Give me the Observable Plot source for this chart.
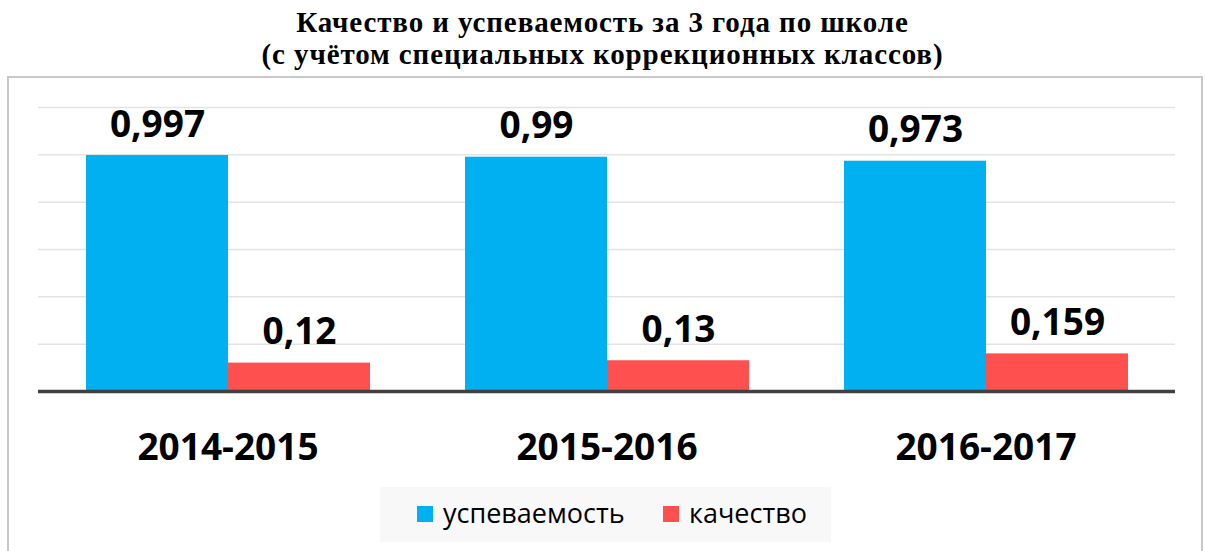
<!DOCTYPE html>
<html>
<head>
<meta charset="utf-8">
<script src="https://cdn.jsdelivr.net/npm/d3@7"></script>
<script src="https://cdn.jsdelivr.net/npm/@observablehq/plot@0.6"></script>
<style>
  html, body { margin: 0; padding: 0; background: #fff; }
  #wrap { position: relative; width: 1205px; height: 551px; overflow: hidden; }
  .title { position: absolute; left: 0; width: 1205px; text-align: center; height: 32px;
    font-family: "Liberation Serif", "Times New Roman", serif; font-weight: bold; font-size: 29px; line-height: 32px;
    letter-spacing: 0.9px; color: #000; white-space: nowrap; }
  #frame { position: absolute; left: 7px; top: 76px; width: 1196px; height: 520px; border: 2px solid #c9c9c9; box-sizing: border-box; }
  #chart { position: absolute; left: 0; top: 75px; }
  #legend { position: absolute; left: 380px; top: 487px; width: 451px; height: 55px; background: #f8f8f8;
    font-family: "Open Sans", sans-serif; font-size: 27px; color: #000; }
  .item { position: absolute; top: 0; height: 55px; line-height: 55px; white-space: nowrap; }
  .sw { position: absolute; top: 19px; width: 16px; height: 16px; }
  .lab { position: absolute; left: 26px; top: -2px; }
</style>
</head>
<body>
<div id="wrap">
  <div class="title" style="top:6px">Качество и успеваемость за 3 года по школе</div>
  <div class="title" style="top:38px">(с учётом специальных коррекционных классов)</div>
  <div id="frame"></div>
  <div id="chart"></div>
  <div id="legend"></div>
</div>
<script>
const years = ["2014-2015", "2015-2016", "2016-2017"];
const seriesNames = ["успеваемость", "качество"];
const uspevaemost = [0.997, 0.99, 0.973];
const kachestvo = [0.12, 0.13, 0.159];
const colors = ["#00B0F0", "#FF5050"];
const yTicks = [0, 0.2, 0.4, 0.6, 0.8, 1.0, 1.2];

const data = [];
years.forEach((yr, i) => {
  data.push({year: yr, series: seriesNames[0], value: uspevaemost[i]});
  data.push({year: yr, series: seriesNames[1], value: kachestvo[i]});
});
const fmt = v => String(v).replace(".", ",");

const chart = Plot.plot({
  width: 1205,
  height: 476,
  marginTop: 32,
  marginBottom: 160,
  marginLeft: 37,
  marginRight: 30,
  style: {background: "transparent", fontFamily: "'Open Sans', sans-serif"},
  fx: {domain: years, padding: 0, label: null, axis: null},
  x: {domain: seriesNames, paddingInner: 0, paddingOuter: 0.33, axis: null},
  y: {domain: [0, 1.2], axis: null},
  color: {domain: seriesNames, range: colors},
  marks: [
    Plot.ruleY(yTicks.filter(d => d > 0), {stroke: "#e3e3e3", strokeWidth: 1.5}),
    Plot.barY(data, {fx: "year", x: "series", y: "value", fill: "series"}),
    Plot.text(data, {fx: "year", x: "series", y: "value", text: d => fmt(d.value),
      dy: -19, lineAnchor: "bottom", fontSize: 37, fontWeight: "bold", fill: "#000"}),
    Plot.text(years, {fx: d => d, frameAnchor: "bottom", text: d => d, dy: 68,
      fontSize: 37, fontWeight: "bold", fill: "#000", lineAnchor: "bottom"}),
    Plot.ruleY([0], {stroke: "#404040", strokeWidth: 3.5})
  ]
});
document.getElementById("chart").appendChild(chart);

const legend = document.getElementById("legend");
const lx = [37, 283];
seriesNames.forEach((s, i) => {
  const it = document.createElement("div");
  it.className = "item";
  it.style.left = lx[i] + "px";
  it.innerHTML = `<span class="sw" style="background:${colors[i]}"></span><span class="lab">${s}</span>`;
  legend.appendChild(it);
});
</script>
</body>
</html>
